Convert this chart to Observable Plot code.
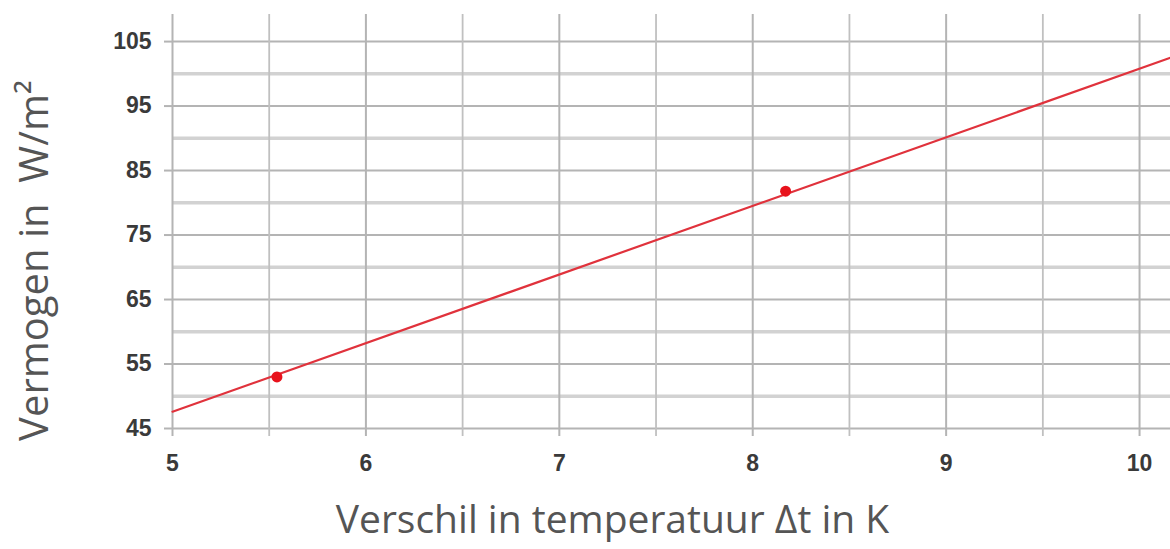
<!DOCTYPE html>
<html>
<head>
<meta charset="utf-8">
<script src="https://cdn.jsdelivr.net/npm/d3@7"></script>
<script src="https://cdn.jsdelivr.net/npm/@observablehq/plot@0.6"></script>
<style>
  html, body { margin: 0; padding: 0; background: #fff; }
  #chart svg { display: block; }
</style>
</head>
<body>
<div id="chart"></div>
<script>
// Measured points
const pointX = [5.54, 8.17];
const pointY = [53.0, 81.8];
// Fitted straight line (end points)
const lineX = [5, 10.16];
const lineY = [47.6, 102.5];
// Ticks
const xTicks = [5, 6, 7, 8, 9, 10];
const xHalfTicks = [5.5, 6.5, 7.5, 8.5, 9.5];
const yTicks = [45, 55, 65, 75, 85, 95, 105];
const yHalfTicks = [50, 60, 70, 80, 90, 100];
const xLabel = "Verschil in temperatuur Δt in K";
const yLabel = "Vermogen in  W/m²";

const points = pointX.map((x, i) => ({x, y: pointY[i]}));
const line = lineX.map((x, i) => ({x, y: lineY[i]}));

const chart = Plot.plot({
  width: 1170,
  height: 549,
  marginLeft: 172,
  marginRight: 0,
  marginTop: 14,
  marginBottom: 121,
  style: {fontFamily: "Liberation Sans, Arial, sans-serif", background: "#fff"},
  x: {type: "linear", domain: [5, 10.16]},
  y: {type: "linear", domain: [45, 109.2]},
  marks: [
    // horizontal grid
    Plot.ruleY(yHalfTicks, {x1: 5, x2: 10.16, stroke: "#d2d2d2", strokeWidth: 3.5}),
    Plot.ruleY(yTicks, {x1: 5, x2: 10.16, stroke: "#b4b4b4", strokeWidth: 2}),
    // vertical grid
    Plot.ruleX(xTicks, {y1: 45, y2: 109.2, stroke: "#b4b4b4", strokeWidth: 2}),
    Plot.ruleX(xHalfTicks, {y1: 45, y2: 109.2, stroke: "#c0c0c0", strokeWidth: 1.8}),
    Plot.axisX(xTicks, {tickSize: 8, stroke: "#b4b4b4", strokeWidth: 2, tickPadding: 18, fontSize: 23, fontWeight: "bold", fill: "#3a3a3a", tickFormat: d3.format("d"), label: null}),
    Plot.axisX(xHalfTicks, {tickSize: 8, stroke: "#c0c0c0", strokeWidth: 1.8, text: null, label: null}),
    Plot.axisY(yTicks, {tickSize: 8, stroke: "#b4b4b4", strokeWidth: 2, tickPadding: 13, fontSize: 23, fontWeight: "bold", fill: "#3a3a3a", label: null}),
    // regression line
    Plot.line(line, {x: "x", y: "y", stroke: "#e0323c", strokeWidth: 2.2}),
    // data points
    Plot.dot(points, {x: "x", y: "y", r: 5.5, fill: "#e8121c", stroke: "none"}),
    // axis titles
    Plot.text([xLabel], {frameAnchor: "bottom", textAnchor: "middle", dy: 104, dx: -59, fontSize: 39, fill: "#555", fontFamily: "Open Sans, Noto Sans, sans-serif"}),
    Plot.text([yLabel], {frameAnchor: "left", textAnchor: "middle", dx: -137, dy: 39, rotate: -90, fontSize: 40, fill: "#555", fontFamily: "Open Sans, Noto Sans, sans-serif"})
  ]
});
document.getElementById("chart").append(chart);
</script>
</body>
</html>
